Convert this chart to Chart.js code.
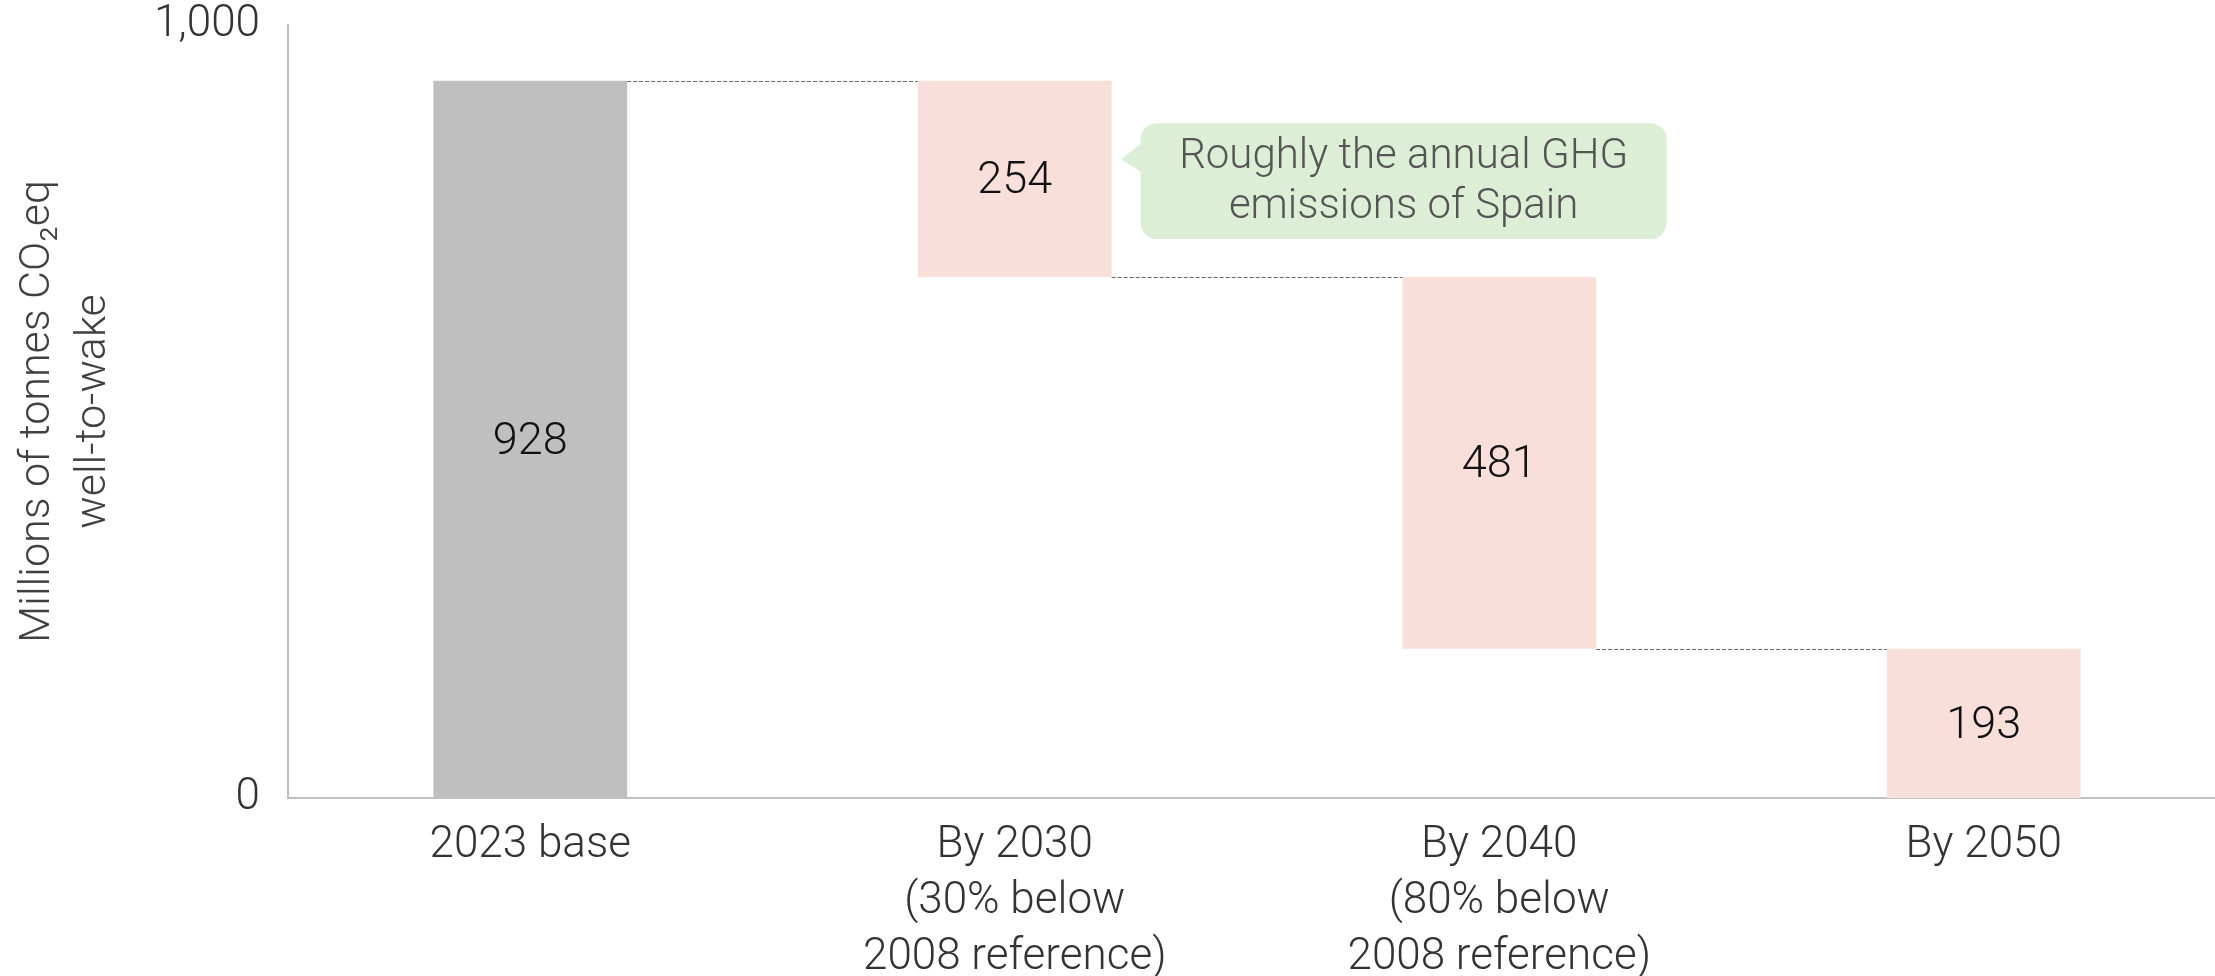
<!DOCTYPE html>
<html>
<head>
<meta charset="utf-8">
<script src="https://cdn.jsdelivr.net/npm/chart.js@4.4.1/dist/chart.umd.min.js"></script>
<style>
  html, body { margin: 0; padding: 0; background: #fff; overflow: hidden; }
  canvas { display: block; }
</style>
</head>
<body>
<canvas id="waterfall" width="2226" height="976"></canvas>
<script>
var categories = [
	["2023 base"],
	["By 2030", "(30% below", "2008 reference)"],
	["By 2040", "(80% below", "2008 reference)"],
	["By 2050"]
];
var baseEmissions = 928;
var reductions = [254, 481];
var remaining = 193;
var yTicks = [0, 1000];
var yTitle = ["Millions of tonnes CO\u2082eq", "well-to-wake"];
var calloutText = ["Roughly the annual GHG", "emissions of Spain"];

// floating bars for the waterfall
var ranges = [[0, baseEmissions]];
var level = baseEmissions;
reductions.forEach(function(r) {
	ranges.push([level - r, level]);
	level -= r;
});
ranges.push([0, remaining]);
var valueLabels = [baseEmissions].concat(reductions, [remaining]);

var FONT = "Roboto, 'Noto Sans', sans-serif";

var connectors = {
	id: "connectors",
	afterDatasetsDraw: function(chart) {
		var ctx = chart.ctx, y = chart.scales.y;
		var bars = chart.getDatasetMeta(0).data;
		ctx.save();
		ctx.strokeStyle = "#666";
		ctx.lineWidth = 1;
		ctx.setLineDash([4, 2]);
		for (var i = 0; i < bars.length - 1; i++) {
			// level where bar i ends and bar i+1 starts
			var lvl = i === 0 ? ranges[0][1] : ranges[i][0];
			var py = Math.round(y.getPixelForValue(lvl)) + 0.5;
			ctx.beginPath();
			ctx.moveTo(bars[i].x + bars[i].width / 2, py);
			ctx.lineTo(bars[i + 1].x - bars[i + 1].width / 2, py);
			ctx.stroke();
		}
		ctx.restore();
	}
};

var barValues = {
	id: "barValues",
	afterDatasetsDraw: function(chart) {
		var ctx = chart.ctx, y = chart.scales.y;
		var bars = chart.getDatasetMeta(0).data;
		ctx.save();
		ctx.font = "300 45px " + FONT;
		ctx.fillStyle = "#111";
		ctx.textAlign = "center";
		ctx.textBaseline = "middle";
		bars.forEach(function(b, i) {
			var mid = (y.getPixelForValue(ranges[i][0]) + y.getPixelForValue(ranges[i][1])) / 2;
			ctx.fillText(String(valueLabels[i]), b.x, mid + 3);
		});
		ctx.restore();
	}
};

var callout = {
	id: "callout",
	afterDraw: function(chart) {
		var ctx = chart.ctx, y = chart.scales.y;
		var bar = chart.getDatasetMeta(0).data[1];
		var tipX = bar.x + bar.width / 2 + 9;
		var left = tipX + 20, right = left + 526;
		var top = y.getPixelForValue(873), bottom = y.getPixelForValue(723);
		var tipY = top + 36;
		ctx.save();
		ctx.fillStyle = "#dcefd6";
		ctx.beginPath();
		ctx.roundRect(left, top, right - left, bottom - top, 16);
		ctx.fill();
		ctx.beginPath();
		ctx.moveTo(left + 1, tipY - 16);
		ctx.lineTo(tipX, tipY);
		ctx.lineTo(left + 1, tipY + 13);
		ctx.closePath();
		ctx.fill();
		ctx.font = "300 42px " + FONT;
		ctx.fillStyle = "#555";
		ctx.textAlign = "center";
		ctx.textBaseline = "middle";
		var cx = (left + right) / 2;
		ctx.fillText(calloutText[0], cx, top + 34);
		ctx.fillText(calloutText[1], cx, top + 84);
		ctx.restore();
	}
};

var ctx = document.getElementById("waterfall");

var data = {
	labels: categories,
	datasets: [{
		data: ranges,
		backgroundColor: ["#bfbfbf", "#f9dfda", "#f9dfda", "#f9dfda"],
		borderWidth: 0,
		barPercentage: 0.4,
		categoryPercentage: 1
	}]
};

var options = {
	responsive: false,
	animation: false,
	layout: { padding: { left: 0, right: 0, top: 25, bottom: 0 } },
	plugins: {
		legend: { display: false },
		tooltip: { enabled: false }
	},
	scales: {
		x: {
			grid: { display: false },
			border: { color: "#bfbfbf", width: 2 },
			afterFit: function(scale) {
				scale.height = 178;
				scale.paddingLeft = 0;
				scale.paddingRight = 0;
			},
			ticks: {
				color: "#333",
				padding: 12,
				maxRotation: 0,
				font: { family: FONT, size: 44, weight: 300, lineHeight: 1.27 }
			}
		},
		y: {
			min: 0,
			max: 1000,
			grid: { display: false },
			border: { color: "#bfbfbf", width: 2 },
			afterBuildTicks: function(scale) {
				scale.ticks = yTicks.map(function(v) { return { value: v }; });
			},
			afterFit: function(scale) {
				scale.width = 288;
				scale.paddingTop = 0;
				scale.paddingBottom = 0;
			},
			ticks: {
				color: "#333",
				padding: 20,
				font: { family: FONT, size: 44, weight: 300 },
				callback: function(v) { return v.toLocaleString("en-US"); }
			},
			title: {
				display: true,
				text: yTitle,
				color: "#404040",
				padding: { top: 10, bottom: 0 },
				font: { family: FONT, size: 43, weight: 300, lineHeight: 1.3 }
			}
		}
	}
};

var chart = new Chart(ctx, {
	type: "bar",
	data: data,
	options: options,
	plugins: [connectors, barValues, callout]
});
</script>
</body>
</html>
